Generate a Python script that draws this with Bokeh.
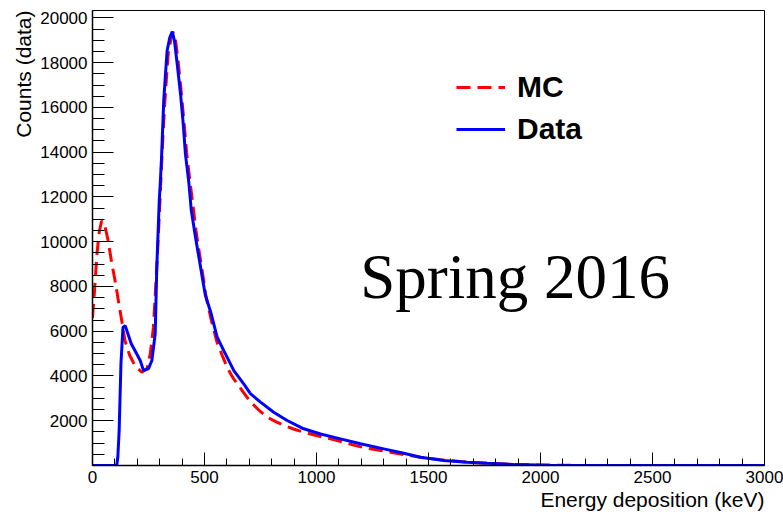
from bokeh.plotting import figure
from bokeh.models import Range1d, FixedTicker, Legend, LegendItem, Label, Title
from bokeh.embed import file_html
from bokeh.resources import INLINE

# ---- data ----
mc_energy = [0, 10, 20, 30, 40, 50, 60, 70, 85, 100, 115, 130, 145, 165, 190, 220, 243,
             258, 272, 287, 295, 302, 308, 315, 322, 330, 338, 350, 360, 370, 382, 395,
             408, 420, 435, 450, 462, 477, 492, 506, 530, 556, 580, 601, 625, 646, 675,
             705, 740, 780, 820, 855, 900, 943, 990, 1033, 1080, 1122, 1170, 1226, 1280,
             1330, 1400, 1470, 1570, 1670, 1760, 1880, 2050, 2200, 3000]
mc_counts = [6600, 7950, 9460, 10420, 10900, 10900, 10500, 10040, 9100, 8300, 7400, 6500,
             5580, 4950, 4450, 4170, 4330, 5000, 6170, 8850, 10500, 12000, 13400, 14800,
             16100, 17300, 18400, 19050, 19370, 19050, 18100, 16800, 15400, 14000, 12700,
             11500, 10500, 9500, 8550, 7600, 6500, 5500, 4900, 4390, 3950, 3660, 3250,
             2850, 2500, 2160, 1950, 1790, 1620, 1490, 1360, 1260, 1150, 1040, 900, 770,
             680, 595, 470, 360, 240, 150, 100, 45, 15, 0, 0]

data_energy = [0, 108, 113, 119, 127, 136, 146, 158, 173, 190, 213, 228, 250, 265, 280,
               287, 298, 303, 308, 313, 318, 326, 333, 345, 356, 366, 378, 393, 405, 415,
               430, 441, 460, 475, 490, 504, 530, 556, 586, 631, 675, 705, 750, 809, 869,
               943, 1018, 1107, 1196, 1300, 1390, 1464, 1568, 1673, 1762, 1880, 2045,
               2150, 3000]
data_counts = [0, 0, 370, 1560, 4550, 6170, 6250, 5890, 5440, 5130, 4690, 4240, 4330,
               4690, 5890, 8850, 11830, 12700, 13700, 15000, 16300, 17500, 18530, 19120,
               19390, 18970, 17950, 16600, 15270, 13900, 12650, 11400, 10190, 9300, 8410,
               7600, 6780, 5750, 5130, 4240, 3650, 3210, 2830, 2380, 2010, 1640, 1410,
               1190, 970, 744, 550, 370, 220, 150, 100, 45, 15, 0, 0]

x_major_ticks = [0, 500, 1000, 1500, 2000, 2500, 3000]
x_minor_ticks = list(range(0, 3001, 100))
y_major_ticks = [2000, 4000, 6000, 8000, 10000, 12000, 14000, 16000, 18000, 20000]
y_minor_ticks = list(range(0, 20301, 500))
legend_labels = ["MC", "Data"]
x_title = "Energy deposition (keV)"
y_title = "Counts (data)"
note_text = "Spring 2016"

FONT = "Liberation Sans"

p = figure(width=783, height=515, output_backend="svg", toolbar_location=None,
           x_range=Range1d(0, 3000), y_range=Range1d(0, 20330),
           min_border_left=92, min_border_right=19, min_border_top=10,
           min_border_bottom=50)
p.grid.visible = False
p.outline_line_color = "black"
p.outline_line_width = 1
p.background_fill_color = "white"
p.border_fill_color = "white"

r_mc = p.line(mc_energy, mc_counts, line_color="#ff0000", line_width=3,
              line_dash="14 7")
r_data = p.line(data_energy, data_counts, line_color="#0000ff", line_width=3)

xa = p.xaxis[0]
xa.ticker = FixedTicker(ticks=x_major_ticks, minor_ticks=x_minor_ticks)
xa.major_tick_in = 13
xa.major_tick_out = 0
xa.minor_tick_in = 7
xa.minor_tick_out = 0
xa.axis_line_color = "black"
xa.axis_line_width = 1.5
xa.major_tick_line_color = "black"
xa.minor_tick_line_color = "black"
xa.major_label_text_font = FONT
xa.major_label_text_font_size = "17px"
xa.major_label_text_color = "black"
xa.major_label_standoff = 5

ya = p.yaxis[0]
ya.ticker = FixedTicker(ticks=y_major_ticks, minor_ticks=y_minor_ticks)
ya.major_tick_in = 21
ya.major_tick_out = 0
ya.minor_tick_in = 12
ya.minor_tick_out = 0
ya.axis_line_color = "black"
ya.axis_line_width = 1.5
ya.major_tick_line_color = "black"
ya.minor_tick_line_color = "black"
ya.major_label_text_font = FONT
ya.major_label_text_font_size = "17px"
ya.major_label_text_color = "black"
ya.major_label_standoff = 5

# axis titles, right-aligned at the axis ends (ROOT style)
p.add_layout(Title(text=x_title, align="right", text_font=FONT,
                   text_font_size="21px", text_font_style="normal",
                   text_color="black", standoff=0, offset=0), "below")
p.add_layout(Title(text=y_title, align="right", text_font=FONT,
                   text_font_size="21px", text_font_style="normal",
                   text_color="black", standoff=5, offset=0), "left")

legend = Legend(items=[LegendItem(label=legend_labels[0], renderers=[r_mc]),
                       LegendItem(label=legend_labels[1], renderers=[r_data])],
                location=(364, 319), padding=0, margin=0, spacing=8,
                glyph_width=49, glyph_height=34, label_height=34,
                label_standoff=12, label_text_font=FONT,
                label_text_font_size="30px", label_text_font_style="bold",
                label_text_color="black", border_line_alpha=0,
                background_fill_alpha=0)
p.add_layout(legend)

p.add_layout(Label(x=1195, y=8440, text=note_text, text_font="Liberation Serif",
                   text_font_size="63px", text_color="black",
                   text_baseline="alphabetic"))

open("out.html", "w").write(file_html(p, INLINE))
